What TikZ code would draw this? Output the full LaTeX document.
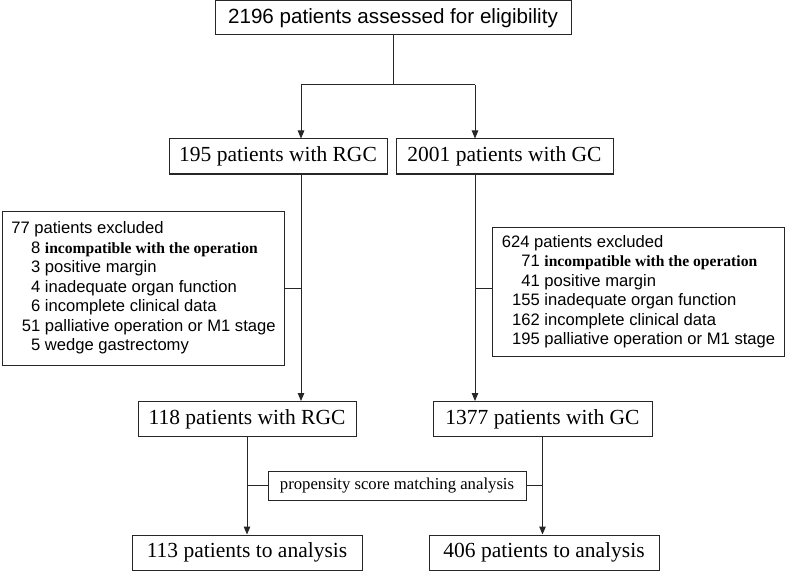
\documentclass[tikz,border=0pt]{standalone}
\usepackage{fontspec}
\usepackage{array}
\setmainfont{Liberation Serif}
\setsansfont{Liberation Sans}
\usepackage{tikz}
\usetikzlibrary{arrows.meta, positioning, calc}
\definecolor{inkgray}{HTML}{262626}
\tikzset{
  box/.style={rectangle, draw=inkgray, line width=1pt, fill=white,
    font=\rmfamily\fontsize{21.5}{24}\selectfont, minimum height=35pt,
    align=center, inner sep=0pt},
  box/top/.style={rectangle, draw=inkgray, line width=1pt, fill=white,
    font=\sffamily\fontsize{20.6}{24}\selectfont, minimum height=34pt,
    align=center, inner sep=0pt},
  box/psm/.style={rectangle, draw=inkgray, line width=1pt, fill=white,
    font=\rmfamily\fontsize{16.7}{19}\selectfont, minimum height=29pt,
    align=center, inner sep=0pt},
  exbox/.style={rectangle, draw=inkgray, line width=1pt, fill=white,
    font=\sffamily\fontsize{16.6}{19.5}\selectfont,
    anchor=north west, align=left, inner xsep=7pt, inner ysep=6pt},
  ar/.style={-{Triangle[length=8pt, width=6.5pt]}, draw=inkgray, line width=1pt},
  ln/.style={draw=inkgray, line width=1pt},
}
\newcommand{\opn}[1]{{\rmfamily\bfseries\fontsize{15.6}{19.5}\selectfont #1}}

\begin{document}
\begin{tikzpicture}[x=1pt, y=-1pt]
  \useasboundingbox (0,0) rectangle (786,572);

  % top level
  \node[box/top, minimum width=356pt] (elig) at (393,18) {2196 patients assessed for eligibility};
  \node[box, minimum width=218pt] (rgc) at (278,156.5) {195 patients with RGC};
  \node[box, minimum width=217pt] (gc) at (504.5,156.5) {2001 patients with GC};

  % exclusions
  \node[exbox, minimum width=282pt, minimum height=154pt] (exrgc) at (2,211) {%
    \begin{tabular}{@{}>{\raggedleft\arraybackslash}p{29pt}@{\ }l@{}}
      \multicolumn{2}{@{}l@{}}{77 patients excluded}\\
      8 & \opn{incompatible with the operation}\\
      3 & positive margin\\
      4 & inadequate organ function\\
      6 & incomplete clinical data\\
      51 & palliative operation or M1 stage\\
      5 & wedge gastrectomy
    \end{tabular}};
  \node[exbox, minimum width=292pt, minimum height=128pt] (exgc) at (492,227) {%
    \begin{tabular}{@{}>{\raggedleft\arraybackslash}p{38pt}@{\ }l@{}}
      \multicolumn{2}{@{}l@{}}{624 patients excluded}\\
      71 & \opn{incompatible with the operation}\\
      41 & positive margin\\
      155 & inadequate organ function\\
      162 & incomplete clinical data\\
      195 & palliative operation or M1 stage
    \end{tabular}};

  % after exclusion
  \node[box, minimum width=218pt] (rgc2) at (247,419) {118 patients with RGC};
  \node[box, minimum width=219pt] (gc2) at (542.5,419) {1377 patients with GC};
  \node[box/psm, minimum width=258pt] (psm) at (397,485.5) {propensity score matching analysis};
  \node[box, minimum width=230pt] (an1) at (247,552.5) {113 patients to analysis};
  \node[box, minimum width=230pt] (an2) at (544,552.5) {406 patients to analysis};

  % connectors
  \coordinate (lt) at (301,85);
  \coordinate (rt) at (475,85);
  \draw[ln] (elig.south) -- (elig.south |- lt);
  \draw[ln] (lt) -- (rt);
  \draw[ar] (lt) -- (lt |- rgc.north);
  \draw[ar] (rt) -- (rt |- gc.north);
  \draw[ar] (lt |- rgc.south) -- (lt |- rgc2.north);
  \draw[ar] (rt |- gc.south) -- (rt |- gc2.north);
  \draw[ln] (exrgc.east |- 0,288) -- (lt |- 0,288);
  \draw[ln] (exgc.west |- 0,288) -- (rt |- 0,288);
  \draw[ar] (rgc2.south) -- (rgc2.south |- an1.north);
  \draw[ar] (gc2.south) -- (gc2.south |- an2.north);
  \draw[ln] (rgc2.south |- psm.west) -- (psm.west);
  \draw[ln] (gc2.south |- psm.east) -- (psm.east);
\end{tikzpicture}
\end{document}
